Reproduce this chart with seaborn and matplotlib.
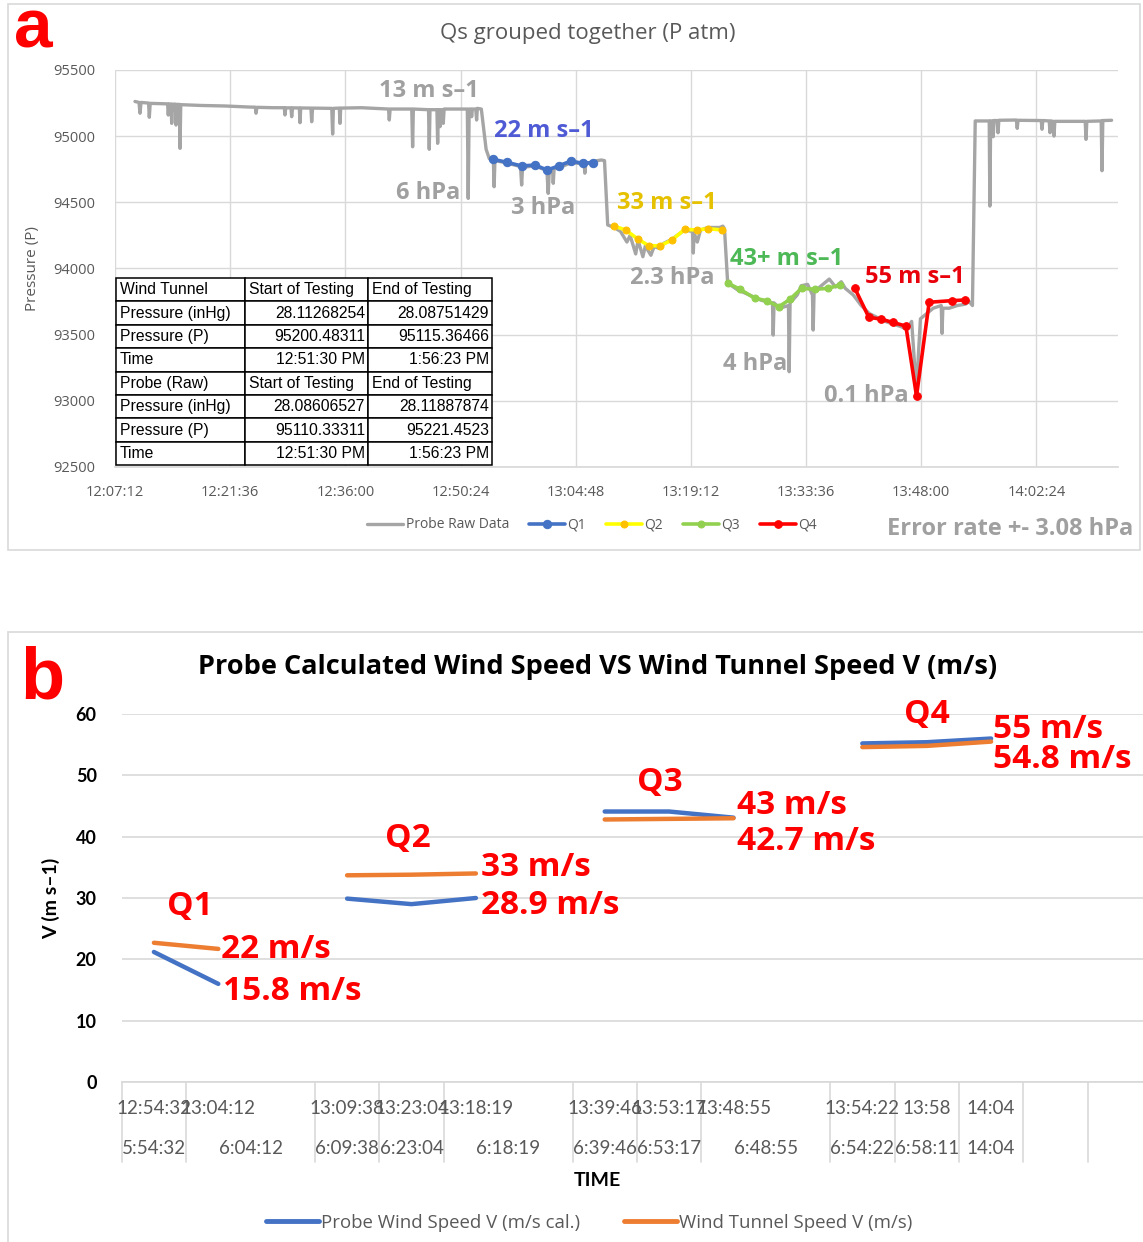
import numpy as np
import pandas as pd
import matplotlib
matplotlib.use("Agg")
import matplotlib.pyplot as plt
import seaborn as sns
from matplotlib.lines import Line2D
from matplotlib.patches import Rectangle

# ---------------------------------------------------------------
# Panel a : probe pressure trace and the four Q groups
# times are minutes after 12:00, pressure in Pa
# ---------------------------------------------------------------

top_ticks = ["12:07:12", "12:21:36", "12:36:00", "12:50:24", "13:04:48",
             "13:19:12", "13:33:36", "13:48:00", "14:02:24"]
top_yticks = [92500, 93000, 93500, 94000, 94500, 95000, 95500]

raw_time = [
    9.7, 10.2, 10.33, 10.45, 11.4, 11.49, 11.6, 13.0, 13.78, 13.86, 13.95, 14.2, 14.29, 14.4,
    14.75, 14.83, 14.92, 15.25, 15.33, 15.42, 18.0, 21.0, 24.0, 24.75, 24.83, 24.95, 27.0,
    28.37, 28.45, 28.55, 29.2, 29.29, 29.4, 30.25, 30.33, 30.42, 31.7, 31.79, 31.9, 34.3,
    34.41, 34.5, 35.25, 35.33, 35.42, 38.0, 41.4, 41.49, 41.6, 44.3, 44.41, 44.5,
    46.4, 46.49, 46.58, 47.45, 47.54, 47.62, 47.75, 47.83, 47.92, 48.15, 48.24, 48.35,
    51.25, 51.36, 51.48, 51.7, 51.79, 51.88, 52.3, 52.41, 52.5, 53.0, 53.6, 54.0,
    54.5, 54.6, 54.7, 56.0, 57.9, 58.04, 58.15, 59.7, 61.2, 61.36, 61.5, 61.9, 61.99,
    62.1, 62.7, 64.2, 65.85, 65.95, 66.05, 67.0, 68.0, 68.4, 68.8,
    69.6, 70.4, 71.2, 71.6, 72.3, 72.6, 73.2, 73.5, 74.2, 74.6, 75.4, 75.8, 76.8,
    78.4, 79.4, 79.5, 79.6, 80.0, 80.4, 81.3, 82.8, 83.2, 83.4, 83.8,
    85.0, 86.5, 88.0, 89.4, 89.49, 89.6, 90.3, 91.4, 91.49, 91.6, 92.5, 93.0, 93.8,
    94.4, 94.49, 94.6, 95.5, 96.5, 97.3, 98.0,
    98.5, 99.5, 100.5, 101.5, 102.5, 103.5, 104.5, 105.5, 106.2, 106.8, 107.2, 107.4,
    107.6, 107.9, 108.5, 109.5, 110.5, 110.6, 110.7, 110.8, 111.5, 112.5, 113.5, 114.0,
    114.4, 114.75, 116.5, 116.58, 116.68, 116.9, 117.0, 117.1, 117.5, 117.6, 117.7,
    119.9, 120.0, 120.1, 123.0, 123.1, 123.2, 124.0, 124.1, 124.2, 124.5, 124.6, 124.7,
    128.5, 128.6, 128.7, 130.5, 130.6, 130.7, 131.8,
]
raw_pressure = [
    95262, 95255, 95173, 95255, 95250, 95143, 95248, 95245, 95244, 95160, 95243, 95243, 95097, 95242,
    95242, 95084, 95240, 95240, 94908, 95238, 95232, 95228, 95220, 95219, 95173, 95218, 95215,
    95215, 95160, 95214, 95214, 95147, 95214, 95213, 95102, 95213, 95212, 95109, 95212, 95210,
    95016, 95210, 95212, 95097, 95212, 95215, 95205, 95122, 95205, 95205, 94920, 95205,
    95200, 94901, 95200, 95200, 94946, 95200, 95200, 95072, 95200, 95200, 95097, 95205,
    95205, 94530, 95205, 95205, 95147, 95205, 95205, 95122, 95210, 95205, 94900, 94830,
    94825, 94618, 94815, 94800, 94770, 94631, 94765, 94775, 94740, 94568, 94745, 94750, 94644,
    94755, 94760, 94800, 94790, 94720, 94790, 94810, 94820, 94815, 94329,
    94310, 94280, 94200, 94250, 94110, 94215, 94089, 94170, 94100, 94165, 94150, 94190, 94220,
    94290, 94280, 94117, 94270, 94200, 94290, 94310, 94310, 94320, 94300, 93890,
    93840, 93800, 93760, 93740, 93497, 93740, 93700, 93720, 93220, 93740, 93800, 93870, 93880,
    93800, 93535, 93820, 93870, 93920, 93860, 93900,
    93850, 93800, 93720, 93660, 93630, 93600, 93580, 93560, 93540, 93600, 93250, 93040,
    93300, 93620, 93650, 93700, 93720, 93510, 93700, 93700, 93700, 93720, 93730, 93750,
    93720, 95115, 95115, 94472, 95115, 95115, 94996, 95118, 95118, 95026, 95120,
    95122, 95059, 95120, 95118, 95052, 95118, 95115, 95026, 95115, 95112, 95001, 95112,
    95112, 94976, 95112, 95115, 94739, 95118, 95120,
]

q1_time = [54.49, 56.16, 58.04, 59.7, 61.24, 62.74, 64.2, 65.66, 66.99]
q1_pressure = [94825, 94803, 94775, 94782, 94744, 94777, 94812, 94795, 94800]
q2_time = [69.58, 71.04, 72.61, 73.95, 75.36, 76.79, 78.45, 79.95, 81.33, 83.08]
q2_pressure = [94321, 94291, 94221, 94172, 94172, 94214, 94296, 94291, 94301, 94291]
q3_time = [83.87, 85.33, 87.2, 88.66, 90.2, 91.58, 93.04, 94.7, 96.36, 97.83]
q3_pressure = [93888, 93843, 93775, 93757, 93711, 93767, 93850, 93843, 93850, 93875]
q4_time = [99.7, 101.45, 102.95, 104.41, 106.08, 107.41, 108.99, 111.79, 113.45]
q4_pressure = [93850, 93631, 93618, 93593, 93565, 93036, 93745, 93757, 93762]

table_rows = [
    ["Wind Tunnel", "Start of Testing", "End of Testing"],
    ["Pressure (inHg)", "28.11268254", "28.08751429"],
    ["Pressure (P)", "95200.48311", "95115.36466"],
    ["Time", "12:51:30 PM", "1:56:23 PM"],
    ["Probe (Raw)", "Start of Testing", "End of Testing"],
    ["Pressure (inHg)", "28.08606527", "28.11887874"],
    ["Pressure (P)", "95110.33311", "95221.4523"],
    ["Time", "12:51:30 PM", "1:56:23 PM"],
]

# ---------------------------------------------------------------
# Panel b : probe speed vs wind tunnel speed per Q group
# ---------------------------------------------------------------

inner_labels = ["12:54:32", "13:04:12", "", "13:09:38", "13:23:04", "13:18:19", "",
                "13:39:46", "13:53:17", "13:48:55", "", "13:54:22", "13:58", "14:04", "", ""]
outer_labels = ["5:54:32", "6:04:12", "6:09:38", "6:23:04", "6:18:19", "6:39:46",
                "6:53:17", "6:48:55", "6:54:22", "6:58:11", "14:04", "", ""]
outer_sizes = [1, 2, 1, 1, 2, 1, 1, 2, 1, 1, 1, 1, 1]

probe_speed = [21.2, 16.0, np.nan, 29.9, 29.0, 30.0, np.nan, 44.1, 44.1, 43.1,
               np.nan, 55.2, 55.4, 56.0, np.nan, np.nan]
tunnel_speed = [22.7, 21.7, np.nan, 33.7, 33.8, 34.0, np.nan, 42.8, 42.9, 43.0,
                np.nan, 54.6, 54.8, 55.5, np.nan, np.nan]
q_group = [1, 1, None, 2, 2, 2, None, 3, 3, 3, None, 4, 4, 4, None, None]

probe_name = "Probe Wind Speed V (m/s cal.)"
tunnel_name = "Wind Tunnel Speed V (m/s)"

# ---------------------------------------------------------------

W, H = 1143, 1242
sns.set_theme(style="white")
plt.rcParams["font.family"] = ["Open Sans", "DejaVu Sans"]

fig = plt.figure(figsize=(W / 100, H / 100), dpi=100)
fig.patch.set_facecolor("white")


def fx(x):
    return x / W


def fy(y):
    return 1 - y / H


def to_min(s):
    h, m, sec = [int(v) for v in s.split(":")]
    return (h - 12) * 60 + m + sec / 60


GREY_TXT = "#595959"
GRID = "#D9D9D9"
NOTE = "#A0A0A0"

# panel borders
fig.add_artist(Rectangle((fx(8), fy(550)), 1132 / W, 546 / H, transform=fig.transFigure,
                         fill=False, edgecolor=GRID, lw=1.2, zorder=0))
fig.add_artist(Rectangle((fx(8), fy(1260)), 1160 / W, 628 / H, transform=fig.transFigure,
                         fill=False, edgecolor=GRID, lw=1.2, zorder=0))

# ------------------------- panel a -------------------------------
ax1 = fig.add_axes([fx(115), fy(467), (1118 - 115) / W, 397 / H])

sns.lineplot(x=raw_time, y=raw_pressure, estimator=None, sort=False, color="#A5A5A5",
             lw=2.4, ax=ax1, label="Probe Raw Data")
q_styles = [
    ("Q1", q1_time, q1_pressure, "#4472C4", "#4472C4", 6),
    ("Q2", q2_time, q2_pressure, "#FFFF00", "#FFC000", 5),
    ("Q3", q3_time, q3_pressure, "#92D050", "#92D050", 5),
    ("Q4", q4_time, q4_pressure, "#FF0000", "#FF0000", 5.5),
]
for name, t, p, lc, mc, ms in q_styles:
    sns.lineplot(x=t, y=p, estimator=None, sort=False, color=lc, lw=2.6, marker="o",
                 markersize=ms, markerfacecolor=mc, markeredgecolor=mc, ax=ax1, label=name)

if ax1.get_legend() is not None:
    ax1.get_legend().remove()

ax1.set_xlim(7.2, 132.6)
ax1.set_ylim(92500, 95500)
ax1.set_xticks([to_min(s) for s in top_ticks])
ax1.set_xticklabels(top_ticks)
ax1.set_yticks(top_yticks)
ax1.set_yticklabels([str(v) for v in top_yticks])
ax1.grid(True, color=GRID, lw=1)
for s in ["top", "left", "right"]:
    ax1.spines[s].set_visible(False)
ax1.spines["bottom"].set_color(GRID)
ax1.tick_params(axis="both", length=0, colors=GREY_TXT, labelsize=10.5)
ax1.tick_params(axis="x", pad=13)
ax1.tick_params(axis="y", pad=14)
ax1.set_xlabel("")
ax1.set_ylabel("Pressure (P)", color=GREY_TXT, fontsize=11, labelpad=10)

fig.text(fx(588), fy(33), "Qs grouped together (P atm)", ha="center", va="center",
         fontsize=16, color=GREY_TXT)
fig.text(fx(14), fy(48), "a", fontsize=50, color="#FF0000", fontweight="bold",
         family="Liberation Sans", ha="left", va="baseline")

top_notes = [
    ("13 m s\u20131", 429, 91, NOTE),
    ("22 m s\u20131", 544, 131, "#4F5BD5"),
    ("6 hPa", 428, 193, NOTE),
    ("3 hPa", 543, 208, NOTE),
    ("33 m s\u20131", 667, 203, "#E5C100"),
    ("2.3 hPa", 672, 278, NOTE),
    ("43+ m s\u20131", 787, 259, "#4DB856"),
    ("55 m s\u20131", 915, 277, "#E8000B"),
    ("4 hPa", 755, 364, NOTE),
    ("0.1 hPa", 866, 396, NOTE),
]
for txt, x, y, c in top_notes:
    fig.text(fx(x), fy(y), txt, ha="center", va="center", fontsize=17,
             fontweight="bold", color=c)

fig.text(fx(1010), fy(529), "Error rate +- 3.08 hPa", ha="center", va="center",
         fontsize=17, fontweight="bold", color=NOTE)

# table drawn in figure pixels
col_edges = [116, 245, 368, 492]
row_top, row_h = 278, 23.4
for r, row in enumerate(table_rows):
    y0 = row_top + r * row_h
    for c, val in enumerate(row):
        x0, x1 = col_edges[c], col_edges[c + 1]
        fig.add_artist(Rectangle((fx(x0), fy(y0 + row_h)), (x1 - x0) / W, row_h / H,
                                 transform=fig.transFigure, facecolor="white",
                                 edgecolor="black", lw=1.1, zorder=2))
        numeric = c > 0 and r not in (0, 4)
        if numeric:
            fig.text(fx(x1 - 3), fy(y0 + row_h / 2), val, ha="right", va="center",
                     fontsize=11.3, family="Liberation Sans", color="black", zorder=3)
        else:
            fig.text(fx(x0 + 4), fy(y0 + row_h / 2), val, ha="left", va="center",
                     fontsize=11.3, family="Liberation Sans", color="black", zorder=3)

h1, l1 = ax1.get_legend_handles_labels()
fig.legend(h1, l1, loc="center", bbox_to_anchor=(fx(592), fy(525)), ncol=5,
           frameon=False, fontsize=10, labelcolor=GREY_TXT, handlelength=2.6,
           handletextpad=0.2, columnspacing=1.4)

# ------------------------- panel b -------------------------------
ax2 = fig.add_axes([fx(121.7), fy(1082), 1030.4 / W, 368 / H])

rows = []
for i, (p, t, g) in enumerate(zip(probe_speed, tunnel_speed, q_group)):
    if g is None:
        continue
    rows.append({"pos": i, "speed": p, "series": probe_name, "seg": g})
    rows.append({"pos": i, "speed": t, "series": tunnel_name, "seg": g})
speed_df = pd.DataFrame(rows)
palette = {probe_name: "#4472C4", tunnel_name: "#ED7D31"}
sns.lineplot(data=speed_df, x="pos", y="speed", hue="series", units="seg",
             estimator=None, palette=palette, lw=3.2, solid_capstyle="round",
             legend=False, ax=ax2)

ax2.set_xlim(-0.5, len(inner_labels) - 0.5)
ax2.set_ylim(0, 60)
ax2.set_yticks(range(0, 61, 10))
ax2.set_xticks([])
ax2.grid(True, axis="y", color=GRID, lw=1.2)
for s in ["top", "left", "right"]:
    ax2.spines[s].set_visible(False)
ax2.spines["bottom"].set_color(GRID)
ax2.tick_params(axis="y", length=0, pad=18, labelsize=13, colors="black")
for lab in ax2.get_yticklabels():
    lab.set_fontweight("bold")
    lab.set_family("Lato")
ax2.set_xlabel("")
ax2.set_ylabel("V (m s\u20131)", fontsize=14, fontweight="bold", color="black",
               family="Lato", labelpad=11)

# multi-level category axis
trans = ax2.get_xaxis_transform()
ax_h = 368
sep_pos = [-0.5]
for n in outer_sizes:
    sep_pos.append(sep_pos[-1] + n)
for x in sep_pos:
    ax2.plot([x, x], [0, -80 / ax_h], transform=trans, clip_on=False, color=GRID, lw=1.2)
for i, lab in enumerate(inner_labels):
    ax2.text(i, -27 / ax_h, lab, transform=trans, ha="center", va="center",
             fontsize=13.5, family="Lato", color=GREY_TXT)
for k, lab in enumerate(outer_labels):
    centre = (sep_pos[k] + sep_pos[k + 1]) / 2
    ax2.text(centre, -66 / ax_h, lab, transform=trans, ha="center", va="center",
             fontsize=13.5, family="Lato", color=GREY_TXT)

fig.text(fx(597), fy(1181), "TIME", ha="center", va="center", fontsize=14,
         fontweight="bold", family="Lato", color="black")
fig.text(fx(598), fy(667), "Probe Calculated Wind Speed VS Wind Tunnel Speed V (m/s)",
         ha="center", va="center", fontsize=19.5, fontweight="bold", color="black")
fig.text(fx(20), fy(698), "b", fontsize=52, color="#FF0000", fontweight="bold",
         family="Liberation Sans", ha="left", va="baseline")

q_tags = [("Q1", 190, 907), ("Q2", 408, 839), ("Q3", 660, 783), ("Q4", 927, 714)]
for txt, x, y in q_tags:
    fig.text(fx(x), fy(y), txt, ha="center", va="center", fontsize=24,
             fontweight="bold", color="#FF0000")
speed_tags = [("22 m/s", 221, 950), ("15.8 m/s", 223, 992), ("33 m/s", 481, 867),
              ("28.9 m/s", 481, 906), ("43 m/s", 737, 806), ("42.7 m/s", 737, 842),
              ("55 m/s", 993, 729), ("54.8 m/s", 993, 759)]
for txt, x, y in speed_tags:
    fig.text(fx(x), fy(y), txt, ha="left", va="center", fontsize=24,
             fontweight="bold", color="#FF0000")

h2 = [Line2D([], [], color=palette[probe_name], lw=3.5),
      Line2D([], [], color=palette[tunnel_name], lw=3.5)]
fig.legend(h2, [probe_name, tunnel_name], loc="center", bbox_to_anchor=(fx(589), fy(1223)),
           ncol=2, frameon=False, fontsize=13.4, labelcolor=GREY_TXT, handlelength=2.85,
           handletextpad=0.1, columnspacing=2.4)

fig.savefig("out.png", dpi=100, facecolor="white")
